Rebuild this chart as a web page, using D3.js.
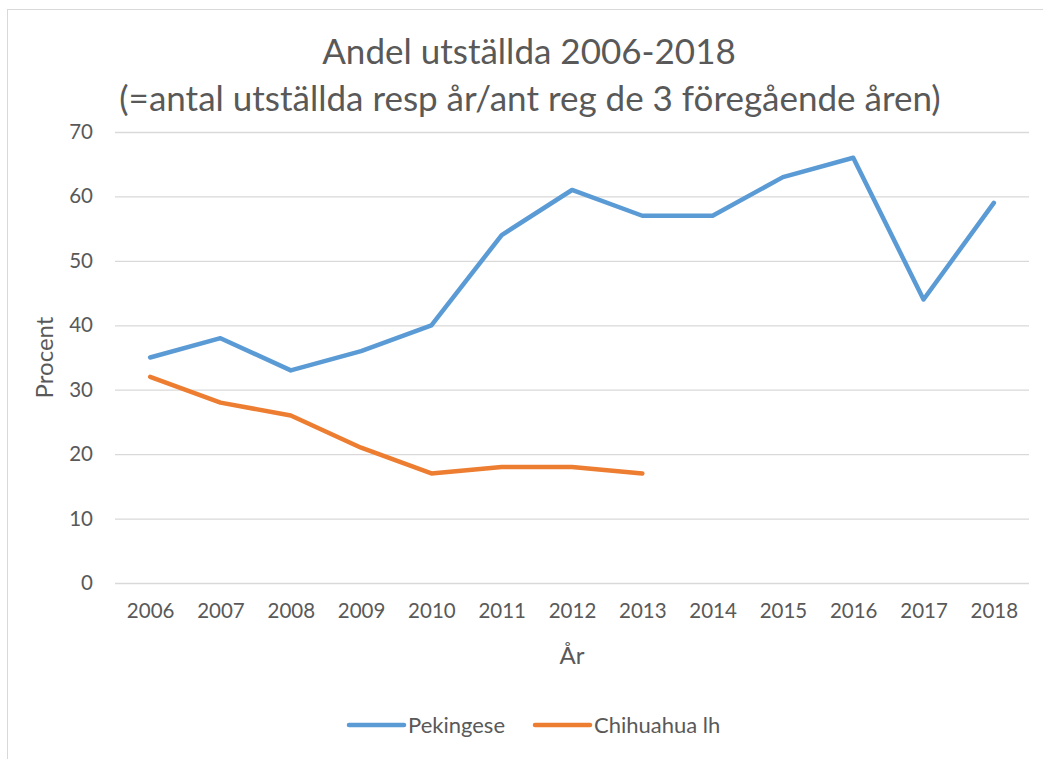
<!DOCTYPE html>
<html>
<head>
<meta charset="utf-8">
<script src="https://cdn.jsdelivr.net/npm/d3@7"></script>
<style>
    body { margin: 0; background: #fff; }
    svg { display: block; font-family: Lato, "Open Sans", sans-serif; }
</style>
</head>
<body>
<div id="chart"></div>
<script>
'use strict';

// Chart data
var years = ['2006', '2007', '2008', '2009', '2010', '2011', '2012', '2013', '2014', '2015', '2016', '2017', '2018'];
var pekingese = [35, 38, 33, 36, 40, 54, 61, 57, 57, 63, 66, 44, 59];
var chihuahua = [32, 28, 26, 21, 17, 18, 18, 17];
var yTicks = [0, 10, 20, 30, 40, 50, 60, 70];
var seriesNames = ['Pekingese', 'Chihuahua lh'];
var seriesColors = ['#5B9BD5', '#ED7D31'];

var width = 1043,
    height = 759,
    margin = {top: 132, right: 14, bottom: 176, left: 115},
    plotW = width - margin.left - margin.right,
    plotH = height - margin.top - margin.bottom;

var svg = d3.select('#chart').append('svg')
    .attr('width', width)
    .attr('height', height);

// outer chart border
svg.append('rect')
    .attr('x', 7.5).attr('y', 9.5)
    .attr('width', 1100).attr('height', 800)
    .attr('fill', 'none')
    .attr('stroke', '#D9D9D9')
    .attr('stroke-width', 1);

var x = d3.scalePoint().domain(years).range([0, plotW]).padding(0.5);
var y = d3.scaleLinear().domain([0, 70]).range([plotH, 0]);

var g = svg.append('g')
    .attr('transform', 'translate(' + margin.left + ',' + margin.top + ')');

// gridlines + y labels
var yAxis = d3.axisLeft(y).tickValues(yTicks).tickSize(-plotW).tickPadding(22);
g.append('g')
    .attr('class', 'y-axis')
    .call(yAxis)
    .call(function (sel) {
        sel.select('.domain').remove();
        sel.selectAll('.tick line').attr('stroke', '#D9D9D9').attr('stroke-width', 1.3);
        sel.selectAll('.tick text')
            .attr('fill', '#595959')
            .style('font-size', '20.5px')
            .style('font-family', 'Lato, sans-serif');
    });

// x labels
var xAxis = d3.axisBottom(x).tickSize(0).tickPadding(20);
g.append('g')
    .attr('transform', 'translate(0,' + plotH + ')')
    .call(xAxis)
    .call(function (sel) {
        sel.select('.domain').remove();
        sel.selectAll('.tick text')
            .attr('fill', '#595959')
            .style('font-size', '20.5px')
            .style('font-family', 'Lato, sans-serif');
    });

var line = d3.line()
    .x(function (d, i) { return x(years[i]); })
    .y(function (d) { return y(d); });

[pekingese, chihuahua].forEach(function (values, i) {
    g.append('path')
        .datum(values)
        .attr('fill', 'none')
        .attr('stroke', seriesColors[i])
        .attr('stroke-width', 4.5)
        .attr('stroke-linejoin', 'round')
        .attr('stroke-linecap', 'round')
        .attr('d', line);
});

// title
var title = svg.append('text')
    .attr('text-anchor', 'middle')
    .attr('fill', '#595959')
    .style('font-size', '35px');
title.append('tspan').attr('x', 529).attr('y', 64).text('Andel utställda 2006-2018');
title.append('tspan').attr('x', 530).attr('y', 111).text('(=antal utställda resp år/ant reg de 3 föregående åren)');

// axis titles
svg.append('text')
    .attr('transform', 'translate(53,' + (margin.top + plotH / 2) + ') rotate(-90)')
    .attr('text-anchor', 'middle')
    .attr('fill', '#595959')
    .style('font-size', '24px')
    .text('Procent');

svg.append('text')
    .attr('x', margin.left + plotW / 2)
    .attr('y', 664)
    .attr('text-anchor', 'middle')
    .attr('fill', '#595959')
    .style('font-size', '24px')
    .text('År');

// legend
var legendX = [349, 535];
var legend = svg.append('g').attr('class', 'legend');
seriesNames.forEach(function (name, i) {
    legend.append('line')
        .attr('x1', legendX[i]).attr('x2', legendX[i] + 55)
        .attr('y1', 725).attr('y2', 725)
        .attr('stroke', seriesColors[i])
        .attr('stroke-width', 4.5)
        .attr('stroke-linecap', 'round');
    legend.append('text')
        .attr('x', legendX[i] + 59)
        .attr('y', 733)
        .attr('fill', '#595959')
        .style('font-size', '22px')
        .text(name);
});
</script>
</body>
</html>
